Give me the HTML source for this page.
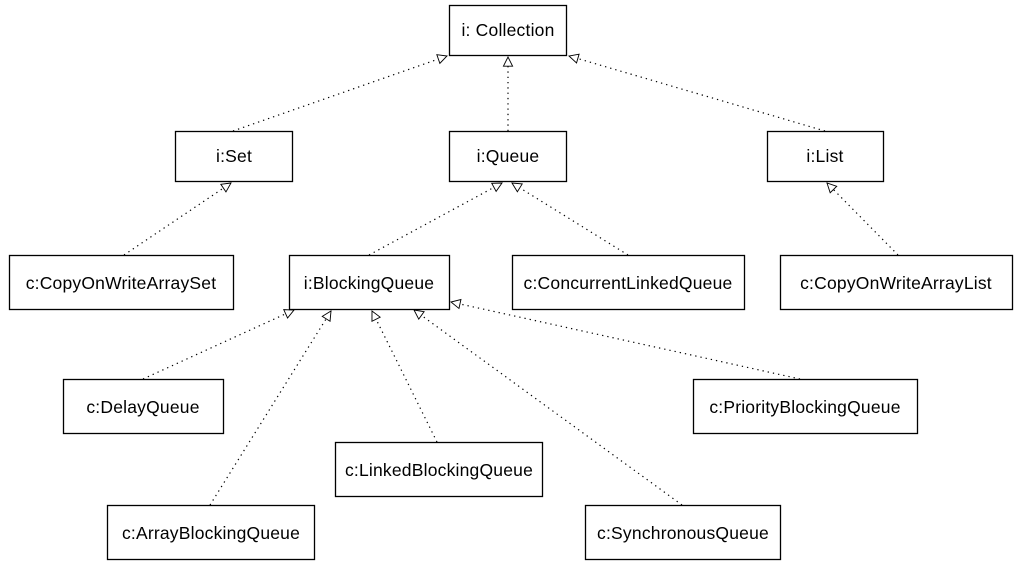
<!DOCTYPE html>
<html><head><meta charset="utf-8"><style>
body{margin:0;background:#fff;}
svg text{font-family:"Liberation Sans","DejaVu Sans",sans-serif;font-size:17.5px;letter-spacing:0.2px;fill:#000;}
</style></head><body>
<svg width="1027" height="571" xmlns="http://www.w3.org/2000/svg">
<defs>
<marker id="t" viewBox="0 0 12 12" refX="11" refY="6" markerWidth="11" markerHeight="11" orient="auto" markerUnits="userSpaceOnUse">
<path d="M1,1 L11,6 L1,11 Z" fill="#fff" stroke="#000" stroke-width="1"/>
</marker>
</defs>
<g stroke="#000" stroke-width="1.2" stroke-dasharray="1.3,4" fill="none" marker-end="url(#t)">
<line x1="233" y1="131" x2="447" y2="56"/>
<line x1="508" y1="131" x2="508" y2="57"/>
<line x1="825" y1="131" x2="569" y2="56"/>
<line x1="124" y1="255" x2="231" y2="183"/>
<line x1="369" y1="255" x2="502" y2="183"/>
<line x1="628" y1="255" x2="512" y2="183"/>
<line x1="898" y1="255" x2="827" y2="183"/>
<line x1="143" y1="379" x2="294" y2="310"/>
<line x1="210" y1="505" x2="331" y2="311"/>
<line x1="437" y1="442" x2="372" y2="311"/>
<line x1="682" y1="505" x2="414" y2="310"/>
<line x1="800" y1="379" x2="451" y2="302"/>
</g>
<g fill="#fff" stroke="#000" stroke-width="1.3">
<rect x="449.5" y="5.5" width="117" height="50"/>
<rect x="175.5" y="131.5" width="117" height="50"/>
<rect x="449.5" y="131.5" width="117" height="50"/>
<rect x="767.5" y="131.5" width="116" height="50"/>
<rect x="9.5" y="255.5" width="224" height="54"/>
<rect x="289.5" y="255.5" width="160" height="54"/>
<rect x="512.5" y="255.5" width="232" height="54"/>
<rect x="780.5" y="255.5" width="232" height="54"/>
<rect x="63.5" y="379.5" width="160" height="54"/>
<rect x="693.5" y="379.5" width="224" height="54"/>
<rect x="335.5" y="442.5" width="207" height="54"/>
<rect x="107.5" y="505.5" width="207" height="54"/>
<rect x="585.5" y="505.5" width="195" height="54"/>
</g>
<g text-anchor="middle">
<text x="508" y="36">i: Collection</text>
<text x="234" y="162">i:Set</text>
<text x="508" y="162">i:Queue</text>
<text x="825" y="162">i:List</text>
<text x="121" y="289">c:CopyOnWriteArraySet</text>
<text x="369" y="289">i:BlockingQueue</text>
<text x="628" y="289">c:ConcurrentLinkedQueue</text>
<text x="896" y="289">c:CopyOnWriteArrayList</text>
<text x="143" y="413">c:DelayQueue</text>
<text x="805" y="413">c:PriorityBlockingQueue</text>
<text x="439" y="476">c:LinkedBlockingQueue</text>
<text x="211" y="539">c:ArrayBlockingQueue</text>
<text x="683" y="539">c:SynchronousQueue</text>
</g>
</svg>
</body></html>
